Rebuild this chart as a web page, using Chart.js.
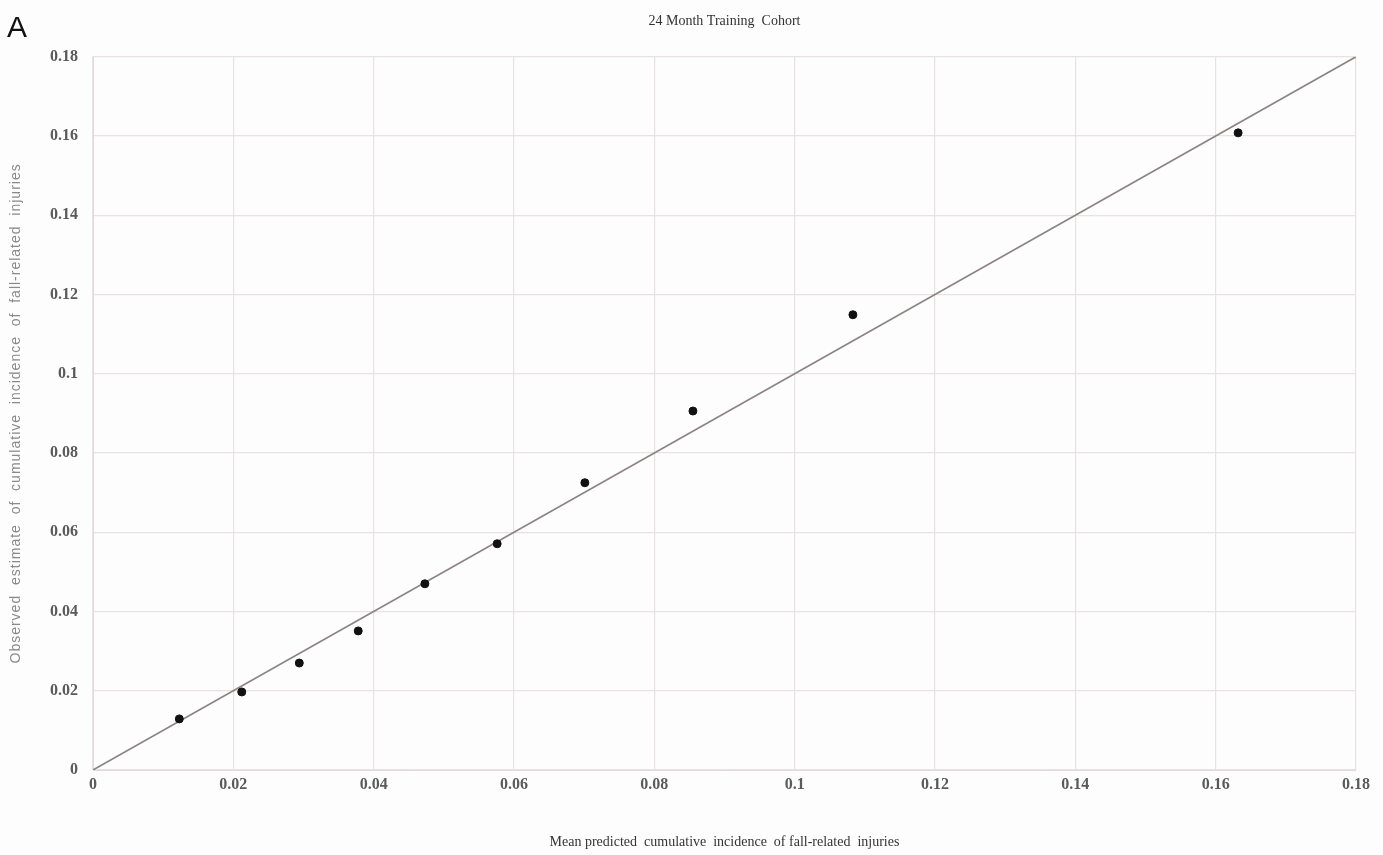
<!DOCTYPE html>
<html><head><meta charset="utf-8">
<script src="https://cdn.jsdelivr.net/npm/chart.js@4"></script>
<style>html,body{margin:0;padding:0;background:#fefdfd;}#wrap{position:relative;width:1383px;height:855px;}</style>
</head><body><div id="wrap"><canvas id="c" width="1383" height="855"></canvas></div>
<script>
const predicted = [0.0123, 0.0212, 0.0294, 0.0378, 0.0473, 0.0576, 0.0701, 0.0855, 0.1083, 0.1632];
const observed  = [0.0129, 0.0197, 0.0270, 0.0351, 0.0470, 0.0571, 0.0725, 0.0906, 0.1149, 0.1608];
const refLineX = [0, 0.18];
const refLineY = [0, 0.18];
const tickLabels = ['0','0.02','0.04','0.06','0.08','0.1','0.12','0.14','0.16','0.18'];
const tickValues = [0,0.02,0.04,0.06,0.08,0.1,0.12,0.14,0.16,0.18];
const yTitleText = 'Observed  estimate  of  cumulative  incidence  of  fall-related  injuries';

function lbl(v){ let best=0; for(let i=0;i<tickValues.length;i++){ if(Math.abs(tickValues[i]-v)<Math.abs(tickValues[best]-v)) best=i;} return tickLabels[best]; }

const extras = {
  id:'extras',
  afterDraw(chart){
    const ctx=chart.ctx; ctx.save();
    ctx.font='30px "Liberation Sans", Arial, sans-serif'; ctx.fillStyle='#111';
    ctx.textBaseline='alphabetic'; ctx.textAlign='left';
    ctx.fillText('A',7,37);
    const a=chart.chartArea;
    ctx.translate(16,(a.top+a.bottom)/2); ctx.rotate(-Math.PI/2);
    ctx.font='14px "Liberation Sans", Arial, sans-serif'; ctx.fillStyle='#8a8a8a';
    ctx.textAlign='center'; ctx.textBaseline='middle';
    try{ ctx.letterSpacing='1px'; }catch(e){}
    ctx.fillText(yTitleText,0,0);
    ctx.restore();
  }
};

const serif='"Liberation Serif", "Times New Roman", serif';
new Chart(document.getElementById('c'), {
  data:{ datasets:[
    { type:'line', data: refLineX.map((x,i)=>({x, y:refLineY[i]})), borderColor:'#8c8484', borderWidth:1.6, pointRadius:0, fill:false, order:2 },
    { type:'scatter', data: predicted.map((x,i)=>({x, y:observed[i]})), backgroundColor:'#111', borderColor:'#111', pointRadius:4, order:1 }
  ]},
  options:{
    responsive:false, animation:false,
    layout:{ padding:{ left:0, right:27, top:0, bottom:0 } },
    plugins:{
      legend:{ display:false }, tooltip:{ enabled:false },
      title:{ display:true, fullSize:false, text:'24 Month Training  Cohort', color:'#333', font:{ family:serif, size:14, weight:'normal' }, padding:{ top:13, bottom:27 } }
    },
    scales:{
      x:{ type:'linear', min:0, max:0.18,
        afterFit(s){ s.height=85; },
        ticks:{ stepSize:0.02, color:'#5a5a5a', font:{ family:serif, size:16, weight:'bold' }, padding:5, callback:(v)=>lbl(v) },
        grid:{ color:'#e8e2e2', lineWidth:1.2, drawTicks:false },
        border:{ color:'#e0dada' },
        title:{ display:true, text:'Mean predicted  cumulative  incidence  of fall-related  injuries', color:'#333', font:{ family:serif, size:14 }, padding:{ top:30, bottom:4 } }
      },
      y:{ type:'linear', min:0, max:0.18,
        afterFit(s){ s.width=93; },
        ticks:{ stepSize:0.02, color:'#5a5a5a', font:{ family:serif, size:16, weight:'bold' }, padding:15, callback:(v)=>lbl(v) },
        grid:{ color:'#e8e2e2', lineWidth:1.2, drawTicks:false },
        border:{ color:'#e0dada' },
        title:{ display:false }
      }
    }
  },
  plugins:[extras]
});
</script></body></html>
